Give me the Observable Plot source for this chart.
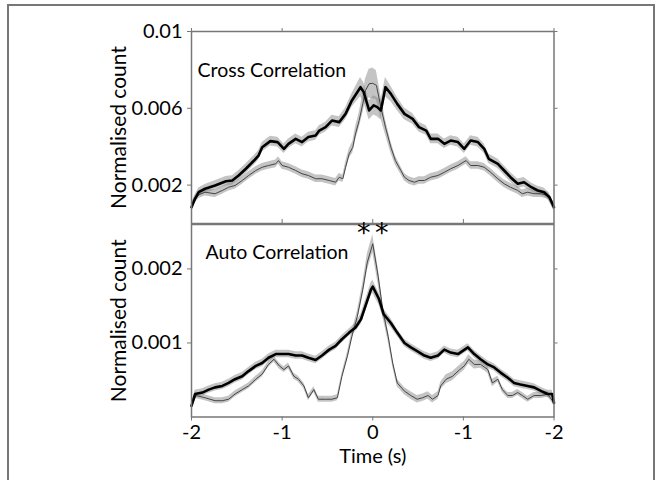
<!DOCTYPE html>
<html><head><meta charset="utf-8">
<script src="https://cdn.jsdelivr.net/npm/d3@7"></script>
<script src="https://cdn.jsdelivr.net/npm/@observablehq/plot@0.6"></script>
<style>
html,body{margin:0;padding:0;background:#fff;}
#wrap{position:relative;width:659px;height:480px;overflow:hidden;font-family:Lato,sans-serif;background:#fff;}
#wrap svg{position:absolute;left:0;}
#border{position:absolute;left:7px;top:4px;width:648px;height:520px;border:2px solid #777;box-sizing:border-box;z-index:10;pointer-events:none;}
</style></head><body><div id="wrap"><div id="border"></div></div>
<script>
// ---- data (values in units of 1e-3 normalised count) ----
const xTicks = [-2, -1, 0, 1, 2];
const xTickLabels = ["-2", "-1", "0", "-1", "-2"];
const crossTicks = [0.002, 0.006, 0.01];
const autoTicks = [0.001, 0.002];

// Cross correlation, thick (black) series
const crossThickT = [-2.0,-1.96,-1.92,-1.85,-1.74,-1.62,-1.55,-1.48,-1.40,-1.31,-1.26,-1.22,-1.13,-1.05,-0.98,-0.93,-0.85,-0.78,-0.71,-0.63,-0.59,-0.52,-0.45,-0.37,-0.30,-0.23,-0.135,-0.10,-0.04,0.01,0.05,0.09,0.14,0.20,0.27,0.35,0.44,0.51,0.59,0.64,0.72,0.79,0.86,0.94,1.01,1.08,1.16,1.23,1.28,1.38,1.45,1.52,1.60,1.67,1.75,1.82,1.89,1.95,2.0];
const crossThickV = [0.85,1.3,1.63,1.81,1.98,2.2,2.24,2.5,2.85,3.28,3.54,3.97,4.29,4.24,3.89,4.15,4.41,4.24,4.5,4.58,4.84,5.02,5.36,5.28,5.71,6.41,7.1,6.84,5.89,6.15,6.06,5.89,7.1,6.75,6.23,5.71,5.45,5.02,4.84,4.41,4.41,4.15,4.32,4.24,3.89,4.32,4.24,3.89,3.37,3.11,2.76,2.41,2.07,2.15,1.89,1.72,1.63,1.37,0.85];
const crossThickSem = [0.2,0.2,0.22,0.22,0.25,0.25,0.25,0.25,0.25,0.25,0.25,0.25,0.25,0.25,0.25,0.25,0.25,0.25,0.25,0.25,0.25,0.25,0.28,0.28,0.3,0.35,0.5,0.5,0.5,0.5,0.5,0.5,0.5,0.4,0.35,0.3,0.28,0.25,0.25,0.25,0.25,0.25,0.25,0.25,0.25,0.25,0.25,0.25,0.25,0.25,0.25,0.25,0.25,0.25,0.22,0.22,0.22,0.2,0.2];

// Cross correlation, thin (grey) series
const crossThinT = [-2.0,-1.96,-1.92,-1.85,-1.74,-1.66,-1.59,-1.52,-1.44,-1.37,-1.29,-1.22,-1.15,-1.07,-1.04,-1.0,-0.93,-0.85,-0.78,-0.71,-0.63,-0.56,-0.48,-0.41,-0.37,-0.33,-0.30,-0.26,-0.22,-0.19,-0.15,-0.11,-0.08,-0.04,0.0,0.04,0.09,0.14,0.20,0.25,0.31,0.35,0.40,0.46,0.51,0.57,0.64,0.72,0.79,0.86,0.94,1.03,1.08,1.16,1.23,1.30,1.38,1.45,1.52,1.60,1.65,1.71,1.78,1.86,1.93,2.0];
const crossThinV = [0.85,1.25,1.5,1.63,1.55,1.72,1.89,1.98,2.24,2.5,2.76,2.93,3.02,3.11,3.28,3.02,2.93,2.76,2.59,2.5,2.33,2.33,2.24,2.15,2.41,2.33,2.93,3.63,3.97,4.67,5.36,6.23,6.93,7.28,7.3,7.2,6.06,5.02,3.97,3.28,2.76,2.41,2.24,2.15,2.24,2.24,2.41,2.5,2.67,2.85,3.02,3.28,3.02,3.02,2.93,2.67,2.33,2.07,1.89,1.72,1.55,1.63,1.55,1.55,1.46,0.85];
const crossThinSem = [0.18,0.18,0.2,0.2,0.2,0.2,0.2,0.2,0.2,0.2,0.2,0.2,0.2,0.2,0.2,0.2,0.2,0.2,0.2,0.2,0.2,0.2,0.2,0.2,0.2,0.2,0.25,0.25,0.3,0.35,0.4,0.5,0.6,0.75,0.8,0.75,0.6,0.4,0.3,0.25,0.2,0.2,0.2,0.2,0.2,0.2,0.2,0.2,0.2,0.2,0.2,0.2,0.2,0.2,0.2,0.2,0.2,0.2,0.2,0.2,0.2,0.2,0.2,0.2,0.18,0.18];

// Auto correlation, thick (black) series
const autoThickT = [-2.0,-1.96,-1.88,-1.81,-1.74,-1.66,-1.59,-1.52,-1.44,-1.37,-1.29,-1.22,-1.15,-1.07,-1.0,-0.93,-0.85,-0.78,-0.71,-0.63,-0.56,-0.48,-0.41,-0.34,-0.26,-0.19,-0.13,-0.08,-0.02,0.0,0.07,0.12,0.20,0.27,0.35,0.42,0.49,0.57,0.64,0.72,0.79,0.86,0.94,1.05,1.12,1.19,1.27,1.34,1.41,1.49,1.56,1.63,1.71,1.78,1.86,1.93,1.98,2.0];
const autoThickV = [0.15,0.31,0.33,0.37,0.40,0.42,0.46,0.51,0.55,0.62,0.69,0.73,0.80,0.85,0.85,0.85,0.83,0.83,0.80,0.77,0.83,0.91,0.96,1.05,1.14,1.21,1.32,1.50,1.72,1.76,1.59,1.39,1.27,1.14,1.00,0.94,0.89,0.83,0.80,0.83,0.91,0.87,0.85,0.94,0.85,0.78,0.71,0.67,0.60,0.53,0.46,0.44,0.42,0.40,0.35,0.31,0.31,0.19];
const autoThickSem = [0.04,0.05,0.05,0.05,0.05,0.05,0.05,0.05,0.05,0.05,0.05,0.05,0.05,0.05,0.05,0.05,0.05,0.05,0.05,0.05,0.05,0.05,0.05,0.05,0.05,0.06,0.07,0.08,0.09,0.09,0.08,0.07,0.06,0.05,0.05,0.05,0.05,0.05,0.05,0.05,0.05,0.05,0.05,0.05,0.05,0.05,0.05,0.05,0.05,0.05,0.05,0.05,0.05,0.05,0.05,0.05,0.05,0.04];

// Auto correlation, thin (grey) series
const autoThinT = [-2.0,-1.95,-1.85,-1.74,-1.66,-1.59,-1.52,-1.44,-1.37,-1.29,-1.22,-1.15,-1.09,-1.03,-0.98,-0.93,-0.87,-0.82,-0.76,-0.71,-0.65,-0.60,-0.52,-0.45,-0.39,-0.34,-0.28,-0.23,-0.17,-0.11,-0.06,0.0,0.06,0.11,0.17,0.22,0.27,0.35,0.42,0.49,0.55,0.61,0.66,0.72,0.75,0.81,0.88,0.96,1.01,1.06,1.12,1.19,1.27,1.32,1.38,1.43,1.49,1.54,1.60,1.65,1.71,1.78,1.86,1.93,2.0];
const autoThinV = [0.15,0.29,0.26,0.22,0.22,0.24,0.31,0.37,0.42,0.51,0.58,0.71,0.78,0.69,0.64,0.69,0.55,0.51,0.42,0.26,0.37,0.24,0.24,0.24,0.26,0.55,0.82,1.09,1.36,1.72,2.09,2.34,1.9,1.45,1.09,0.73,0.46,0.35,0.29,0.24,0.26,0.29,0.24,0.29,0.42,0.51,0.55,0.64,0.69,0.78,0.71,0.71,0.64,0.46,0.51,0.37,0.29,0.29,0.33,0.29,0.24,0.29,0.29,0.31,0.19];
const autoThinSem = [0.03,0.04,0.04,0.04,0.04,0.04,0.04,0.04,0.04,0.04,0.04,0.04,0.04,0.04,0.04,0.04,0.04,0.04,0.04,0.04,0.04,0.04,0.04,0.04,0.04,0.04,0.05,0.06,0.07,0.09,0.11,0.12,0.11,0.09,0.07,0.05,0.05,0.05,0.05,0.05,0.05,0.05,0.05,0.05,0.05,0.06,0.06,0.06,0.06,0.06,0.06,0.05,0.05,0.05,0.04,0.04,0.04,0.04,0.04,0.04,0.04,0.04,0.04,0.04,0.03];

const stars = [{t: -0.1, label: "*"}, {t: 0.1, label: "*"}];
const panelTitles = ["Cross Correlation", "Auto Correlation"];
const yLabel = "Normalised count";
const xLabel = "Time (s)";

// ---- build ----
const UNIT = 1e-3;
function rows(t, v, s) {
  return t.map((ti, i) => ({t: ti, v: v[i] * UNIT, lo: (v[i] - s[i]) * UNIT, hi: (v[i] + s[i]) * UNIT}));
}
const crossThick = rows(crossThickT, crossThickV, crossThickSem);
const crossThin = rows(crossThinT, crossThinV, crossThinSem);
const autoThick = rows(autoThickT, autoThickV, autoThickSem);
const autoThin = rows(autoThinT, autoThinV, autoThinSem);

const FONT = "Lato, sans-serif";
const AX = "#777";
const BAND = "#8a8a8a";
const xFmt = d => xTickLabels[xTicks.indexOf(d)];
const innerTicks = xTicks.slice(1, -1);

function seriesMarks(thin, thick) {
  return [
    Plot.areaY(thin, {x: "t", y1: "lo", y2: "hi", fill: BAND, fillOpacity: 0.5}),
    Plot.areaY(thick, {x: "t", y1: "lo", y2: "hi", fill: BAND, fillOpacity: 0.5}),
    Plot.lineY(thin, {x: "t", y: "v", stroke: "#444", strokeWidth: 1}),
    Plot.lineY(thick, {x: "t", y: "v", stroke: "#000", strokeWidth: 2.6, strokeLinejoin: "round"})
  ];
}

const topPlot = Plot.plot({
  width: 659, height: 224,
  marginLeft: 191, marginRight: 105.5, marginTop: 31, marginBottom: 1,
  x: {domain: [-2, 2]},
  y: {domain: [0, 0.01]},
  style: {fontFamily: FONT, fontSize: "20px", color: "#000", background: "none", overflow: "visible"},
  marks: [
    ...seriesMarks(crossThin, crossThick),
    Plot.frame({stroke: AX, strokeWidth: 1.5}),
    Plot.axisY(crossTicks, {anchor: "left", tickSize: 4, tickPadding: 5, stroke: AX, fill: "#000", tickFormat: d => String(d), label: null, fontSize: 20}),
    Plot.axisY(crossTicks, {anchor: "right", tickSize: 3, stroke: AX, tickFormat: () => "", label: null}),
    Plot.axisX(xTicks, {anchor: "top", tickSize: 4, stroke: AX, tickFormat: () => "", label: null}),
    Plot.axisX(innerTicks, {anchor: "bottom", tickSize: -4, stroke: AX, tickFormat: () => "", label: null}),
    Plot.text([yLabel], {frameAnchor: "left", textAnchor: "middle", lineAnchor: "middle", rotate: -90, dx: -72, fontSize: 21, fill: "#000"}),
    Plot.text([panelTitles[0]], {frameAnchor: "top-left", textAnchor: "start", lineAnchor: "middle", dx: 6, dy: 39, fontSize: 19.5, fill: "#000"})
  ]
});
topPlot.style.top = "0px";

const botPlot = Plot.plot({
  width: 659, height: 258,
  marginLeft: 191, marginRight: 105.5, marginTop: 2, marginBottom: 63.5,
  x: {domain: [-2, 2]},
  y: {domain: [0, 0.0026]},
  style: {fontFamily: FONT, fontSize: "20px", color: "#000", background: "none", overflow: "visible"},
  marks: [
    ...seriesMarks(autoThin, autoThick),
    Plot.frame({stroke: AX, strokeWidth: 1.5}),
    Plot.axisY(autoTicks, {anchor: "left", tickSize: 4, tickPadding: 5, stroke: AX, fill: "#000", tickFormat: d => String(d), label: null, fontSize: 20}),
    Plot.axisY(autoTicks, {anchor: "right", tickSize: 3, stroke: AX, tickFormat: () => "", label: null}),
    Plot.axisX(xTicks, {anchor: "bottom", tickSize: 4, tickPadding: 4, stroke: AX, fill: "#000", tickFormat: xFmt, label: null, fontSize: 20}),
    Plot.text([yLabel], {frameAnchor: "left", textAnchor: "middle", lineAnchor: "middle", rotate: -90, dx: -72, fontSize: 21, fill: "#000"}),
    Plot.text([xLabel], {frameAnchor: "bottom", textAnchor: "middle", lineAnchor: "top", dy: 32, fontSize: 20, fill: "#000"}),
    Plot.text([panelTitles[1]], {frameAnchor: "top-left", textAnchor: "start", lineAnchor: "middle", dx: 14, dy: 28, fontSize: 19.5, fill: "#000"}),
    Plot.text(stars, {x: "t", text: "label", frameAnchor: "top", textAnchor: "middle", lineAnchor: "top", dy: -2, fontSize: 27, fontFamily: "DejaVu Sans", fill: "#000"})
  ]
});
botPlot.style.top = "222px";

const wrap = document.getElementById("wrap");
wrap.insertBefore(topPlot, wrap.firstChild);
wrap.insertBefore(botPlot, document.getElementById("border"));
</script>
</body></html>
